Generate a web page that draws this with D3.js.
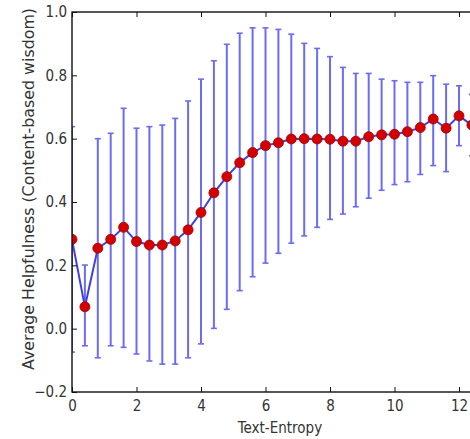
<!DOCTYPE html>
<html><head><meta charset="utf-8">
<script src="https://cdn.jsdelivr.net/npm/d3@7"></script>
<style>body{margin:0;background:#fff}svg{display:block}</style>
</head><body>
<svg id="c" width="470" height="439"></svg>
<script>
// Data
const xValues = [0,0.4,0.8,1.2,1.6,2.0,2.4,2.8,3.2,3.6,4.0,4.4,4.8,5.2,5.6,6.0,6.4,6.8,7.2,7.6,8.0,8.4,8.8,9.2,9.6,10.0,10.4,10.8,11.2,11.6,12.0,12.4];
const meanValues = [0.282,0.069,0.254,0.282,0.320,0.275,0.264,0.264,0.277,0.312,0.367,0.429,0.480,0.524,0.556,0.578,0.587,0.599,0.600,0.599,0.598,0.592,0.592,0.606,0.612,0.614,0.622,0.635,0.662,0.633,0.672,0.643];
const upperValues = [0.638,0.201,0.600,0.617,0.696,0.633,0.638,0.643,0.664,0.719,0.788,0.846,0.898,0.933,0.950,0.950,0.945,0.930,0.901,0.885,0.859,0.825,0.806,0.806,0.788,0.783,0.778,0.778,0.799,0.772,0.767,0.740];
const lowerValues = [-0.074,-0.054,-0.092,-0.054,-0.059,-0.080,-0.102,-0.112,-0.112,-0.092,-0.048,0.001,0.061,0.120,0.164,0.207,0.238,0.270,0.293,0.320,0.345,0.362,0.385,0.412,0.437,0.455,0.464,0.487,0.515,0.496,0.578,0.546];
const xTicks = [0,2,4,6,8,10,12];
const yTicks = [-0.2,0.0,0.2,0.4,0.6,0.8,1.0];
const xLabel = "Text-Entropy";
const yLabel = "Average Helpfulness (Content-based wisdom)";

(function(){
const svg = d3.select("#c");
const mLeft = 72, mTop = 12, mBottom = 392;
const x = d3.scaleLinear().domain([0,12]).range([mLeft,459]);
const y = d3.scaleLinear().domain([-0.2,1.0]).range([mBottom,mTop]);
const rightEdge = x(12.9);
const font = "'Liberation Sans Narrow','DejaVu Sans Condensed',sans-serif";

svg.append("defs").append("clipPath").attr("id","pc")
  .append("rect").attr("x",mLeft).attr("y",mTop).attr("width",rightEdge-mLeft).attr("height",mBottom-mTop);

const plot = svg.append("g").attr("clip-path","url(#pc)");
const data = xValues.map((v,i)=>({x:v,m:meanValues[i],lo:lowerValues[i],hi:upperValues[i]}));

const ebColor = "#6c6cf2";
plot.selectAll("line.eb").data(data).join("line").attr("class","eb")
  .attr("x1",d=>x(d.x)).attr("x2",d=>x(d.x)).attr("y1",d=>y(d.lo)).attr("y2",d=>y(d.hi))
  .attr("stroke",ebColor).attr("stroke-width",2);
["lo","hi"].forEach(k=>{
  plot.selectAll("line.cap"+k).data(data).join("line").attr("class","cap"+k)
    .attr("x1",d=>x(d.x)-3).attr("x2",d=>x(d.x)+3).attr("y1",d=>y(d[k])).attr("y2",d=>y(d[k]))
    .attr("stroke",ebColor).attr("stroke-width",1.6);
});
plot.append("path").datum(data)
  .attr("d",d3.line().x(d=>x(d.x)).y(d=>y(d.m)))
  .attr("fill","none").attr("stroke","#4040e0").attr("stroke-width",2);
plot.selectAll("circle").data(data).join("circle")
  .attr("cx",d=>x(d.x)).attr("cy",d=>y(d.m)).attr("r",5)
  .attr("fill","#d40000").attr("stroke","#a00000").attr("stroke-width",0.8);

const axG = svg.append("g");
axG.append("rect").attr("x",mLeft).attr("y",mTop).attr("width",rightEdge-mLeft).attr("height",mBottom-mTop)
  .attr("fill","none").attr("stroke","#111").attr("stroke-width",1.4);

const xb = axG.append("g").attr("transform",`translate(0,${mBottom})`)
  .call(d3.axisBottom(x).tickValues(xTicks).tickSize(-5).tickPadding(8).tickFormat(d3.format("d")));
const xt = axG.append("g").attr("transform",`translate(0,${mTop})`)
  .call(d3.axisTop(x).tickValues(xTicks).tickSize(-5).tickFormat(""));
const yl = axG.append("g").attr("transform",`translate(${mLeft},0)`)
  .call(d3.axisLeft(y).tickValues(yTicks).tickSize(-5).tickPadding(5).tickFormat(d=>d<0?"\u22120.2":d3.format(".1f")(d)));
[xb,xt,yl].forEach(g=>{
  g.select(".domain").remove();
  g.selectAll(".tick line").attr("stroke","#111").attr("stroke-width",1);
  g.selectAll("text").attr("font-family",font).attr("font-size",15).attr("fill","#333");
});

svg.append("text").attr("x",280).attr("y",433).attr("text-anchor","middle")
  .attr("font-family",font).attr("font-size",15).attr("fill","#333").text(xLabel);
svg.append("text").attr("transform","translate(34,189) rotate(-90)").attr("text-anchor","middle")
  .attr("font-family","'DejaVu Sans',sans-serif").attr("font-size",15).attr("fill","#333")
  .attr("textLength",362).attr("lengthAdjust","spacingAndGlyphs").text(yLabel);
})();
</script>
</body></html>
